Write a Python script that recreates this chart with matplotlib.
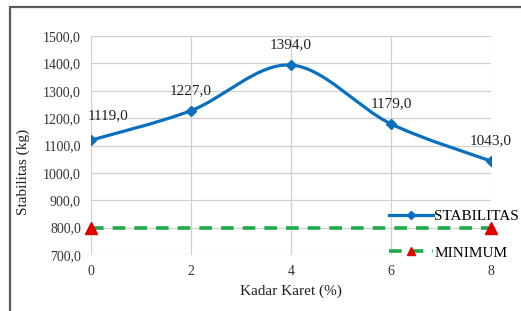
import numpy as np
import matplotlib
matplotlib.use("Agg")
import matplotlib.pyplot as plt
from matplotlib.path import Path
from matplotlib.patches import PathPatch, Rectangle
from matplotlib.lines import Line2D
from matplotlib.ticker import FuncFormatter

# data
kadar = [0, 2, 4, 6, 8]
stabilitas = [1119.0, 1227.0, 1394.0, 1179.0, 1043.0]
min_x = [0, 8]
minimum = [800.0, 800.0]
y_ticks = [700, 800, 900, 1000, 1100, 1200, 1300, 1400, 1500]

plt.rcParams['font.family'] = ['Liberation Serif', 'DejaVu Serif']

W, H = 521, 311
x0, x1, ytop, ybot = 90.7, 491.0, 36.0, 255.0
fig = plt.figure(figsize=(W / 100, H / 100), dpi=100)
ax = fig.add_axes([x0 / W, 1 - ybot / H, (x1 - x0) / W, (ybot - ytop) / H])

# outer chart frame (Excel style)
fig.patches.append(Rectangle((10 / W, -0.05), 1.05, 1 - 7 / H + 0.05,
                             transform=fig.transFigure, fill=False,
                             edgecolor='#5a5a5a', linewidth=1.6, zorder=0))

# smoothed line like Excel (Catmull-Rom -> Bezier)
def smooth_path(xs, ys, t=1 / 6):
    pts = np.column_stack([xs, ys]).astype(float)
    verts = [pts[0]]
    codes = [Path.MOVETO]
    n = len(pts)
    for i in range(n - 1):
        p0 = pts[i - 1] if i > 0 else pts[i]
        p1 = pts[i]
        p2 = pts[i + 1]
        p3 = pts[i + 2] if i + 2 < n else pts[i + 1]
        c1 = p1 + (p2 - p0) * t
        c2 = p2 - (p3 - p1) * t
        verts += [c1, c2, p2]
        codes += [Path.CURVE4] * 3
    return Path(verts, codes)

blue = '#0a6fbf'
green = '#1faa4a'
red = '#e00000'
ax.add_patch(PathPatch(smooth_path(kadar, stabilitas), fill=False,
                       edgecolor=blue, linewidth=2.3, zorder=3))
ax.plot(kadar, stabilitas, linestyle='none', marker='D', markersize=5,
        color=blue, zorder=4)

ax.plot(min_x, minimum, color=green, linestyle=(0, (3.5, 2.5)),
        linewidth=2.6, zorder=3)
ax.plot(min_x, minimum, linestyle='none', marker='^', markersize=8,
        color=red, clip_on=False, zorder=5)

for x, y in zip(kadar, stabilitas):
    lbl = f"{y:.1f}".replace('.', ',')
    if x == 0:
        ax.annotate(lbl, (x, y), xytext=(-2, 13), textcoords='offset points',
                    ha='left', va='bottom', fontsize=11, color='#222222', zorder=6)
    else:
        ax.annotate(lbl, (x, y), xytext=(0, 10), textcoords='offset points',
                    ha='center', va='bottom', fontsize=11, color='#222222', zorder=6)

ax.set_xlim(0, 8)
ax.set_ylim(700, 1500)
ax.set_xticks(kadar)
ax.set_yticks(y_ticks)
ax.yaxis.set_major_formatter(FuncFormatter(lambda v, p: f"{v:.1f}".replace('.', ',')))
ax.grid(True, color='#d0d0d0', linewidth=0.9)
ax.set_axisbelow(True)
for s in ax.spines.values():
    s.set_visible(False)
ax.tick_params(length=0, labelsize=10, colors='#333333')
ax.tick_params(axis='y', pad=7)
ax.tick_params(axis='x', pad=7)

ax.set_xlabel('Kadar Karet (%)', fontsize=11, color='#222222', labelpad=5)
ax.set_ylabel('Stabilitas (kg)', fontsize=11, color='#222222')
ax.yaxis.set_label_coords(-(x0 - 30) / (x1 - x0), (ybot - 172) / (ybot - ytop))

handles = [
    Line2D([], [], color=blue, linewidth=2.3, marker='D', markersize=4),
    Line2D([], [], color=green, linewidth=2.6, linestyle=(0, (3.5, 2.5)),
           marker='^', markersize=6, markerfacecolor=red,
           markeredgecolor=red),
]
ax.legend(handles, ['STABILITAS', 'MINIMUM'], loc='lower left',
          bbox_to_anchor=((389 - x0) / (x1 - x0), -0.022),
          frameon=False, fontsize=11, handlelength=2.9, handletextpad=0.05,
          labelspacing=1.5, borderpad=0, borderaxespad=0)

fig.savefig('out.png', dpi=100)
